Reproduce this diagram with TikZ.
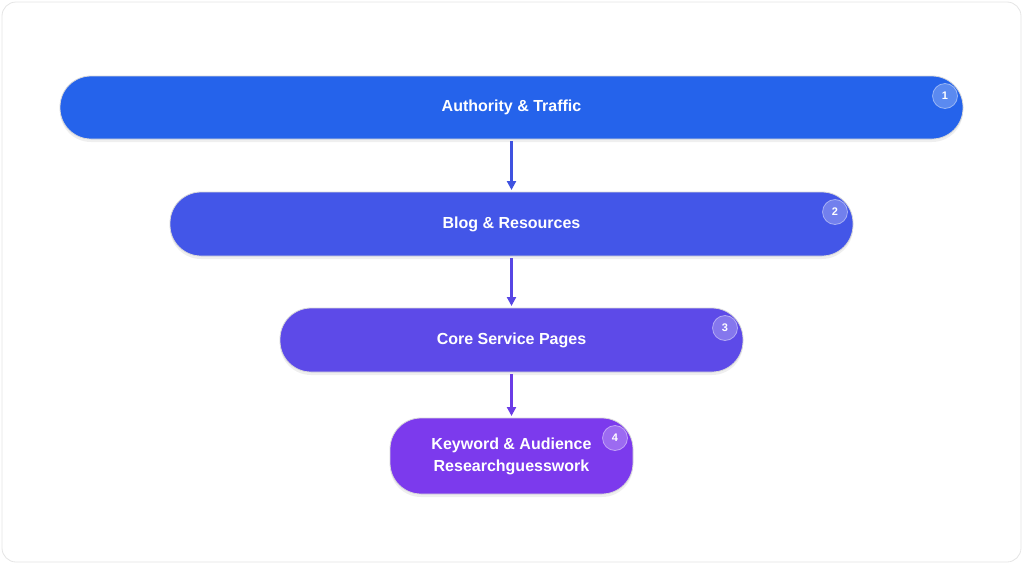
\documentclass[tikz,border=0pt]{standalone}
\usepackage{fontspec}
\setmainfont{Liberation Sans}
\usetikzlibrary{arrows.meta,shadows}
\definecolor{c1}{HTML}{2563EB}
\definecolor{c2}{HTML}{4356E8}
\definecolor{c3}{HTML}{5D4AE8}
\definecolor{c4}{HTML}{7C3AED}
\definecolor{a1}{HTML}{3F52E0}
\definecolor{a2}{HTML}{5746E4}
\definecolor{a3}{HTML}{6B3CE6}
\tikzset{
 stage/.style={rounded corners=31pt, draw=white!85!black, line width=0.8pt, text=white,
   font=\fontsize{16}{19}\selectfont\bfseries, align=center,
   drop shadow={shadow xshift=0pt,shadow yshift=-3pt,opacity=0.12}},
 badge/.style={circle, minimum size=25pt, inner sep=0pt, fill=white, fill opacity=0.25,
   draw=white, draw opacity=0.45, line width=0.8pt, text opacity=1, text=white,
   font=\fontsize{11}{12}\selectfont\bfseries},
 link/.style={line width=3pt, -{Triangle[length=9pt,width=9pt]}}
}
\begin{document}
\begin{tikzpicture}[x=1pt,y=-1pt]
\useasboundingbox (0,0) rectangle (1024,565);
\draw[rounded corners=14pt, draw=black!10, fill=white, line width=0.8pt] (2,2) rectangle (1021,562);
\path[stage, fill=c1] (60,76) rectangle (963,139);
\node (n1) at (511.5,107.5) [text=white,font=\fontsize{16}{19}\selectfont\bfseries] {Authority \& Traffic};
\path[stage, fill=c2] (170,192) rectangle (853,256);
\node (n2) at (511.5,224) [text=white,font=\fontsize{16}{19}\selectfont\bfseries] {Blog \& Resources};
\path[stage, fill=c3] (280,308) rectangle (743,372);
\node (n3) at (511.5,340) [text=white,font=\fontsize{16}{19}\selectfont\bfseries] {Core Service Pages};
\path[stage, fill=c4] (390,418) rectangle (633,494);
\node (n4) at (511.5,456) [text=white,font=\fontsize{16}{22}\selectfont\bfseries,align=center] {Keyword \& Audience\\Researchguesswork};
\node[badge] (b1) at (945,96) {1};
\node[badge] (b2) at (835,212) {2};
\node[badge] (b3) at (725,328) {3};
\node[badge] (b4) at (615,438) {4};
\coordinate (t1) at (511.5,141); \coordinate (h1) at (511.5,190);
\coordinate (t2) at (511.5,258); \coordinate (h2) at (511.5,306);
\coordinate (t3) at (511.5,374); \coordinate (h3) at (511.5,416);
\draw[link, draw=a1, fill=a1] (t1) -- (h1);
\draw[link, draw=a2, fill=a2] (t2) -- (h2);
\draw[link, draw=a3, fill=a3] (t3) -- (h3);
\end{tikzpicture}
\end{document}
